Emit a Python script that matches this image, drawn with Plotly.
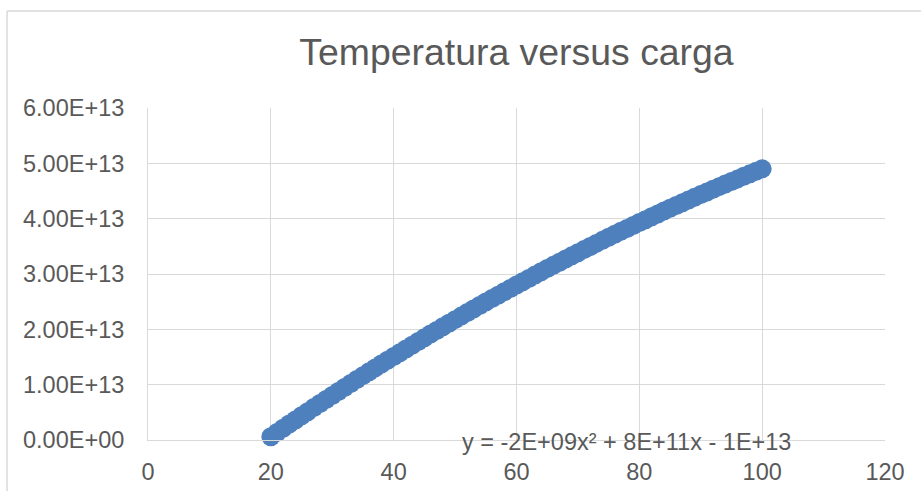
import plotly.graph_objects as go

# Data
carga = list(range(20, 101))
SCALE = 1e13
temperatura_e13 = [
    0.060, 0.136, 0.212, 0.288, 0.363, 0.438, 0.512, 0.586, 0.659, 0.732,
    0.805, 0.877, 0.949, 1.021, 1.092, 1.163, 1.233, 1.303, 1.372, 1.441,
    1.510, 1.578, 1.646, 1.714, 1.781, 1.848, 1.914, 1.980, 2.045, 2.110,
    2.175, 2.239, 2.303, 2.367, 2.430, 2.493, 2.555, 2.617, 2.678, 2.739,
    2.800, 2.860, 2.920, 2.980, 3.039, 3.098, 3.156, 3.214, 3.271, 3.328,
    3.385, 3.441, 3.497, 3.553, 3.608, 3.663, 3.717, 3.771, 3.824, 3.877,
    3.930, 3.982, 4.034, 4.086, 4.137, 4.188, 4.238, 4.288, 4.337, 4.386,
    4.435, 4.483, 4.531, 4.579, 4.626, 4.673, 4.719, 4.765, 4.810, 4.855,
    4.900,
]
temperatura = [v * SCALE for v in temperatura_e13]

x_ticks = [0, 20, 40, 60, 80, 100, 120]
y_ticks = [0, 1e13, 2e13, 3e13, 4e13, 5e13, 6e13]
y_tick_labels = ["0.00E+00", "1.00E+13", "2.00E+13", "3.00E+13",
                 "4.00E+13", "5.00E+13", "6.00E+13"]

title_text = "Temperatura versus carga"
trend_text = "y = -2E+09x² + 8E+11x - 1E+13"

FONT = "Liberation Sans, Arial, sans-serif"
TXT = "#595959"
GRID = "#d9d9d9"

fig = go.Figure()
fig.add_trace(go.Scatter(
    x=carga, y=temperatura, mode="markers",
    marker=dict(size=19, color="#4E80BD", line=dict(width=0)),
    showlegend=False, cliponaxis=False,
))

fig.update_layout(
    width=921, height=491,
    margin=dict(l=148, r=36, t=108, b=51, autoexpand=False),
    paper_bgcolor="white", plot_bgcolor="white",
    font=dict(family=FONT, color=TXT, size=23.5),
    title=dict(text=title_text, x=0.5, xref="paper", xanchor="center",
               y=0.895, yref="container", yanchor="middle",
               font=dict(size=37.4, color=TXT, family=FONT)),
    xaxis=dict(range=[0, 120], tickvals=x_ticks, ticktext=[str(t) for t in x_ticks],
               showgrid=True, gridcolor=GRID, gridwidth=1,
               showline=True, linecolor=GRID, linewidth=1,
               zeroline=False, ticks="", ticklabelstandoff=11, automargin=False,
               tickfont=dict(size=23.5, color=TXT, family=FONT)),
    yaxis=dict(range=[0, 6e13], tickvals=y_ticks, ticktext=y_tick_labels,
               showgrid=True, gridcolor=GRID, gridwidth=1,
               showline=True, linecolor=GRID, linewidth=1,
               zeroline=False, ticks="", ticklabelstandoff=18, automargin=False,
               tickfont=dict(size=23.5, color=TXT, family=FONT)),
    annotations=[dict(text=trend_text, x=0.6486, y=-0.006, xref="paper", yref="paper",
                      xanchor="center", yanchor="middle", showarrow=False,
                      font=dict(size=23.5, color=TXT, family=FONT))],
    shapes=[
        dict(type="line", xref="paper", yref="paper", x0=-0.1913, x1=-0.1913,
             y0=-0.2, y1=1.292, line=dict(color=GRID, width=1.5)),
        dict(type="line", xref="paper", yref="paper", x0=-0.1913, x1=1.1,
             y0=1.292, y1=1.292, line=dict(color=GRID, width=1.5)),
    ],
)

fig.write_html("out.html", config={"displayModeBar": False},
               post_script="document.body.style.margin='0';")
